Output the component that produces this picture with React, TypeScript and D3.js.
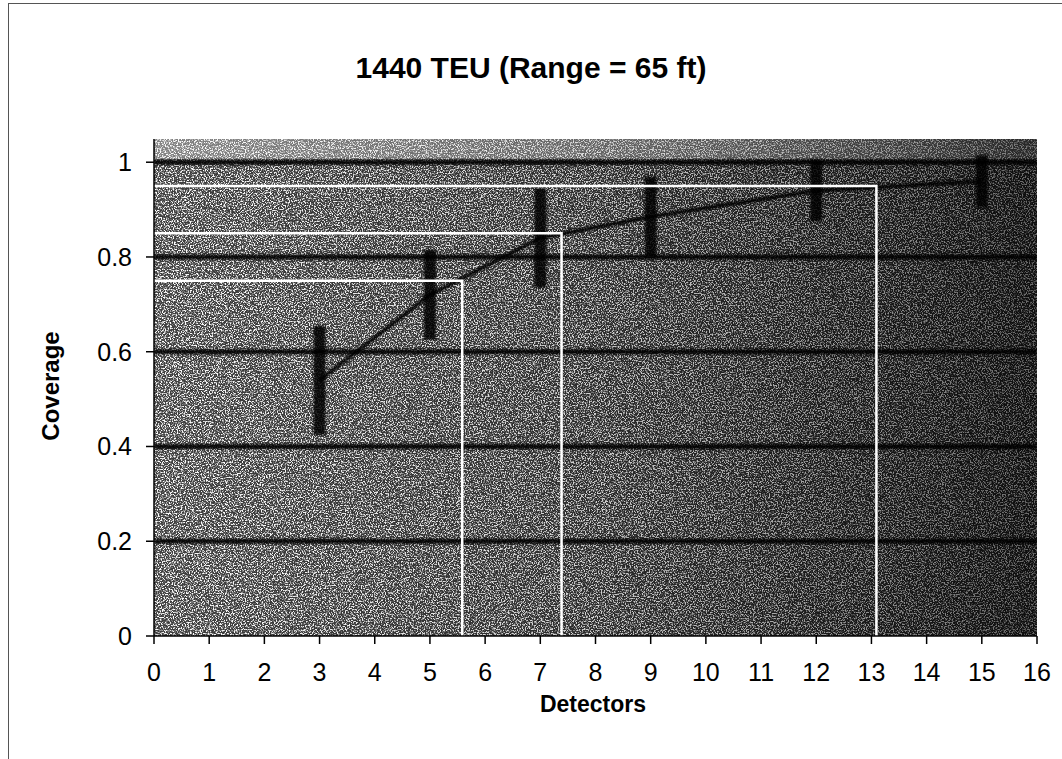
import React from "react";
import * as d3 from "d3";

const title = "1440 TEU (Range = 65 ft)";
const xLabel = "Detectors";
const yLabel = "Coverage";
const xTicks = [0, 1, 2, 3, 4, 5, 6, 7, 8, 9, 10, 11, 12, 13, 14, 15, 16];
const yTicks = [0, 0.2, 0.4, 0.6, 0.8, 1];
const yTickLabels = ["0", "0.2", "0.4", "0.6", "0.8", "1"];
const detectors = [3, 5, 7, 9, 12, 15];
const coverage = [0.54, 0.72, 0.84, 0.885, 0.94, 0.96];
const errorHalf = [0.115, 0.095, 0.105, 0.085, 0.065, 0.055];
const coverageLevels = [0.75, 0.85, 0.95];
const requiredDetectors = [5.585, 7.385, 13.09];

export default function App() {
  const W = 1062, H = 759;
  const left = 154, right = 1037, top = 139, bottom = 636;
  const x = d3.scaleLinear().domain([0, 16]).range([left, right]);
  const y = d3.scaleLinear().domain([0, 1.049]).range([bottom, top]);
  const line = d3.line<number>().x((_, i) => x(detectors[i])).y((d) => y(d));
  const font = "'Liberation Sans', Arial, sans-serif";

  return (
    <svg width={W} height={H} style={{ position: "absolute", left: 0, top: 0, background: "#fff" }}>
      <defs>
        <linearGradient id="bg" x1="0" x2="1" y1="0" y2="0">
          <stop offset="0" stopColor="#404040" />
          <stop offset="0.45" stopColor="#2e2e2e" />
          <stop offset="0.75" stopColor="#1a1a1a" />
          <stop offset="1" stopColor="#0e0e0e" />
        </linearGradient>
        <linearGradient id="maskGrad" x1="0" x2="1" y1="0" y2="0">
          <stop offset="0" stopColor="#fff" />
          <stop offset="0.5" stopColor="#c8c8c8" />
          <stop offset="1" stopColor="#606060" />
        </linearGradient>
        <linearGradient id="topGrad" x1="0" x2="1" y1="0" y2="0">
          <stop offset="0" stopColor="#fff" stopOpacity={0.35} />
          <stop offset="0.6" stopColor="#fff" stopOpacity={0.25} />
          <stop offset="1" stopColor="#fff" stopOpacity={0.1} />
        </linearGradient>
        <mask id="speckMask">
          <rect x={left} y={top} width={right - left} height={bottom - top} fill="url(#maskGrad)" />
        </mask>
        <filter id="noise" filterUnits="userSpaceOnUse" x={left} y={top} width={right - left} height={bottom - top}>
          <feTurbulence type="fractalNoise" baseFrequency="0.75" numOctaves="2" seed="7" />
          <feColorMatrix type="matrix" values="0 0 0 0 1  0 0 0 0 1  0 0 0 0 1  5 0 0 0 -2.3" />
        </filter>
        <filter id="soft" filterUnits="userSpaceOnUse" x={0} y={0} width={W} height={H}>
          <feGaussianBlur stdDeviation="1.3" />
        </filter>
        <clipPath id="plotClip">
          <rect x={left} y={top} width={right - left} height={bottom - top} />
        </clipPath>
      </defs>

      {/* outer chart border */}
      <rect x={8.5} y={3.5} width={W + 20} height={H + 20} fill="none" stroke="#555" strokeWidth={1} />

      <text x={531} y={78} textAnchor="middle" fontFamily={font} fontWeight="bold" fontSize={30} fill="#000">
        {title}
      </text>

      {/* plot area */}
      <g clipPath="url(#plotClip)">
        <rect x={left} y={top} width={right - left} height={bottom - top} fill="url(#bg)" />
        <rect x={left} y={top} width={right - left} height={bottom - top} fill="#fff" filter="url(#noise)" mask="url(#speckMask)" />
        <rect x={left} y={top} width={right - left} height={y(1) - top - 3} fill="url(#topGrad)" />

        {/* gridlines */}
        {yTicks.filter((t) => t > 0).map((t) => (
          <line key={t} x1={left} x2={right} y1={y(t)} y2={y(t)} stroke="#000" strokeWidth={5} opacity={0.9} filter="url(#soft)" />
        ))}

        {/* error bars */}
        {detectors.map((d, i) => (
          <line
            key={"e" + d}
            x1={x(d)}
            x2={x(d)}
            y1={y(coverage[i] - errorHalf[i])}
            y2={y(coverage[i] + errorHalf[i])}
            stroke="#000"
            strokeWidth={12}
            opacity={0.85}
            filter="url(#soft)"
          />
        ))}

        {/* series line */}
        <path d={line(coverage) || ""} fill="none" stroke="#000" strokeWidth={4} opacity={0.9} filter="url(#soft)" />

        {/* threshold lines */}
        {coverageLevels.map((c, i) => (
          <path
            key={"t" + c}
            d={`M${x(0)},${y(c)}H${x(requiredDetectors[i])}V${y(0)}`}
            fill="none"
            stroke="#fff"
            strokeWidth={2.5}
          />
        ))}
      </g>

      {/* axes */}
      <line x1={left} x2={left} y1={top} y2={bottom} stroke="#000" strokeWidth={1.5} />
      <line x1={left} x2={right} y1={bottom} y2={bottom} stroke="#000" strokeWidth={1.5} />
      {yTicks.map((t, i) => (
        <g key={"y" + t}>
          <line x1={left - 8} x2={left} y1={y(t)} y2={y(t)} stroke="#000" strokeWidth={1.5} />
          <text x={132} y={y(t) + 9} textAnchor="end" fontFamily={font} fontSize={25} fill="#000">
            {yTickLabels[i]}
          </text>
        </g>
      ))}
      {xTicks.map((t) => (
        <g key={"x" + t}>
          <line x1={x(t)} x2={x(t)} y1={bottom} y2={bottom + 8} stroke="#000" strokeWidth={1.5} />
          <text x={x(t)} y={681} textAnchor="middle" fontFamily={font} fontSize={25} fill="#000">
            {t}
          </text>
        </g>
      ))}

      <text x={593} y={712} textAnchor="middle" fontFamily={font} fontWeight="bold" fontSize={23} fill="#000">
        {xLabel}
      </text>
      <text
        transform={`translate(59,386) rotate(-90)`}
        textAnchor="middle"
        fontFamily={font}
        fontWeight="bold"
        fontSize={24}
        fill="#000"
      >
        {yLabel}
      </text>
    </svg>
  );
}
